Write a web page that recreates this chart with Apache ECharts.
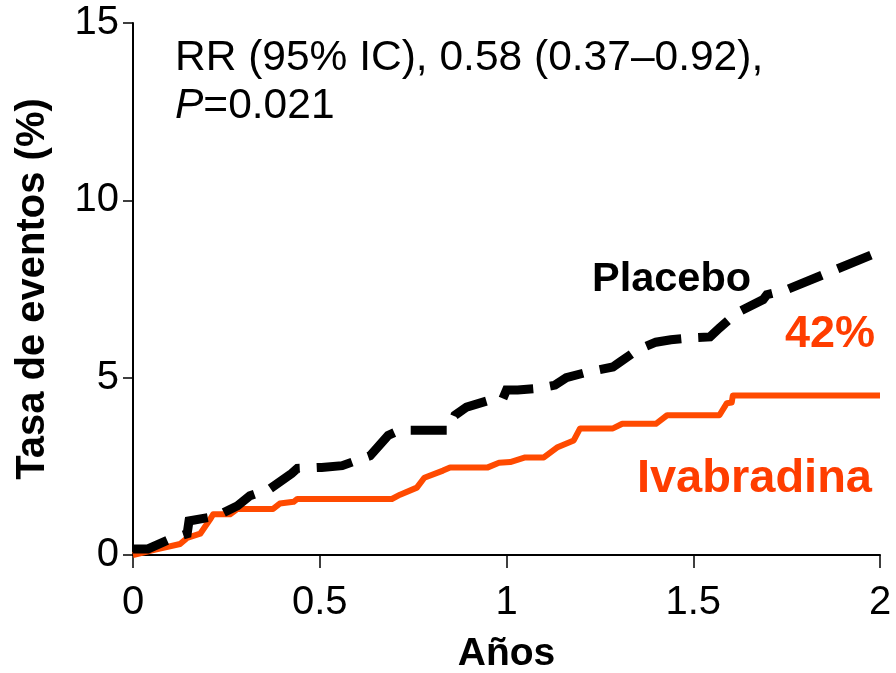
<!DOCTYPE html>
<html>
<head>
<meta charset="utf-8">
<script src="https://cdn.jsdelivr.net/npm/echarts@6/dist/echarts.min.js"></script>
<style>
html,body{margin:0;padding:0;background:#fff;}
#c{width:896px;height:673px;}
</style>
</head>
<body>
<div id="c"></div>
<script>
// ---- data ----
const xTicks = [0, 0.5, 1, 1.5, 2];
const yTicks = [0, 5, 10, 15];
const placeboX = [0, 0.04, 0.10, 0.145, 0.15, 0.225, 0.28, 0.313, 0.367, 0.425, 0.44, 0.505, 0.56, 0.635, 0.683, 0.715, 0.845, 0.862, 0.893, 0.956, 0.99, 1.0, 1.03, 1.085, 1.13, 1.16, 1.218, 1.285, 1.304, 1.35, 1.40, 1.44, 1.49, 1.545, 1.57, 1.617, 1.687, 1.697, 1.75, 2.0];
const placeboY = [0.17, 0.17, 0.45, 0.6, 0.96, 1.1, 1.39, 1.67, 1.87, 2.3, 2.44, 2.47, 2.52, 2.8, 3.37, 3.52, 3.52, 3.94, 4.17, 4.37, 4.4, 4.65, 4.65, 4.7, 4.79, 5.0, 5.16, 5.3, 5.44, 5.78, 6.0, 6.07, 6.12, 6.15, 6.4, 6.83, 7.2, 7.34, 7.48, 8.56];
const ivaX = [0, 0.06, 0.126, 0.145, 0.18, 0.206, 0.215, 0.26, 0.28, 0.375, 0.393, 0.43, 0.44, 0.693, 0.715, 0.76, 0.78, 0.83, 0.849, 0.95, 0.98, 1.01, 1.05, 1.10, 1.135, 1.18, 1.197, 1.285, 1.31, 1.40, 1.43, 1.57, 1.59, 1.603, 1.606, 2.0];
const ivaY = [0, 0.15, 0.31, 0.48, 0.6, 1.0, 1.15, 1.15, 1.3, 1.3, 1.45, 1.5, 1.58, 1.58, 1.7, 1.9, 2.18, 2.38, 2.47, 2.47, 2.6, 2.62, 2.75, 2.75, 3.03, 3.23, 3.57, 3.57, 3.7, 3.7, 3.94, 3.94, 4.28, 4.3, 4.5, 4.5];
const statLine1 = 'RR (95% IC), 0.58 (0.37–0.92),';
const statP = 'P';
const statLine2 = '=0.021';
const labelPlacebo = 'Placebo';
const labelReduction = '42%';
const labelIva = 'Ivabradina';
const xTitle = 'Años';
const yTitle = 'Tasa de eventos (%)';

const zip = (xs, ys) => xs.map((x, i) => [x, ys[i]]);
const ORANGE = '#ff4a00';
const ORANGE_TXT = '#ff3d00';
const FONT = 'Liberation Sans, Arial, sans-serif';

const chart = echarts.init(document.getElementById('c'), null, {renderer: 'canvas'});
chart.setOption({
  backgroundColor: '#ffffff',
  animation: false,
  grid: {left: 133, right: 16, top: 23, bottom: 118, containLabel: false, outerBoundsMode: 'none'},
  xAxis: {
    type: 'value', min: xTicks[0], max: xTicks[xTicks.length - 1], interval: 0.5,
    name: xTitle, nameLocation: 'middle', nameGap: 80,
    nameTextStyle: {fontFamily: FONT, fontWeight: 'bold', fontSize: 39, color: '#000'},
    axisLine: {show: true, lineStyle: {color: '#000', width: 2}},
    axisTick: {show: true, inside: false, length: 13, lineStyle: {color: '#000', width: 1.5}},
    axisLabel: {fontFamily: FONT, fontSize: 40, color: '#000', margin: 28,
      formatter: v => String(v)},
    splitLine: {show: false}
  },
  yAxis: {
    type: 'value', min: yTicks[0], max: yTicks[yTicks.length - 1], interval: 5,
    name: yTitle, nameLocation: 'middle', nameGap: 80, nameRotate: 90,
    nameTextStyle: {fontFamily: FONT, fontWeight: 'bold', fontSize: 40, color: '#000'},
    axisLine: {show: true, lineStyle: {color: '#000', width: 2}},
    axisTick: {show: true, inside: false, length: 10, lineStyle: {color: '#000', width: 1.5}},
    axisLabel: {fontFamily: FONT, fontSize: 40, color: '#000', margin: 14},
    splitLine: {show: false}
  },
  series: [
    {
      name: 'Ivabradina', type: 'line', data: zip(ivaX, ivaY), showSymbol: false, symbol: 'none',
      lineStyle: {color: ORANGE, width: 6, cap: 'butt', join: 'round'}, z: 2
    },
    {
      name: 'Placebo', type: 'line', data: zip(placeboX, placeboY), showSymbol: false, symbol: 'none',
      lineStyle: {color: '#000', width: 9, type: [36, 17], cap: 'butt', join: 'miter'}, z: 3
    }
  ],
  graphic: [
    {type: 'text', left: 175, top: 37, style: {text: statLine1, font: '42.5px ' + FONT, fill: '#000'}},
    {type: 'text', left: 175, top: 85, style: {
      text: '{i|' + statP + '}{n|' + statLine2 + '}',
      rich: {i: {fontFamily: FONT, fontSize: 42.5, fontStyle: 'italic', fill: '#000', color: '#000'},
             n: {fontFamily: FONT, fontSize: 42.5, fill: '#000', color: '#000'}}
    }},
    {type: 'text', left: 592, top: 259, style: {text: labelPlacebo, font: 'bold 41.5px ' + FONT, fill: '#000'}},
    {type: 'text', right: 21, top: 312, style: {text: labelReduction, font: 'bold 45px ' + FONT, fill: ORANGE_TXT}},
    {type: 'text', right: 24, top: 456, style: {text: labelIva, font: 'bold 47px ' + FONT, fill: ORANGE_TXT}}
  ]
});
</script>
</body>
</html>
